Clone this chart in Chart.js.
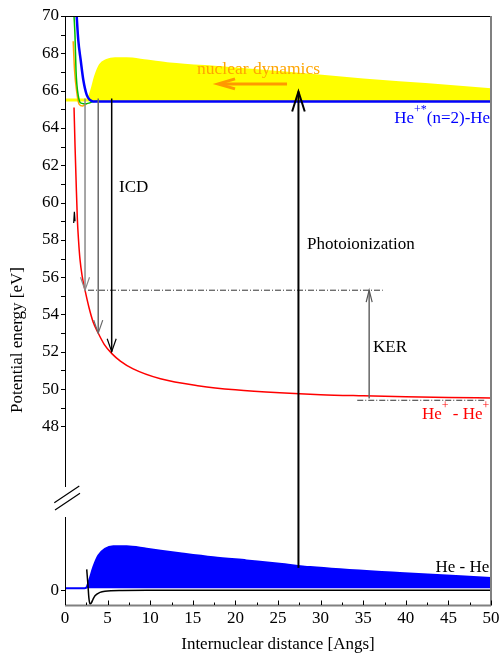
<!DOCTYPE html>
<html>
<head>
<meta charset="utf-8">
<script src="https://cdn.jsdelivr.net/npm/chart.js@4.4.0/dist/chart.umd.min.js"></script>
<style>
  html, body { margin: 0; padding: 0; background: #fff; }
  #wrap { width: 500px; height: 654px; }
</style>
</head>
<body>
<div id="wrap"><canvas id="potentialChart" width="500" height="654"></canvas></div>
<script>
// tick labels
const xTicks = [0, 5, 10, 15, 20, 25, 30, 35, 40, 45, 50];
const yTicksUpper = [48, 50, 52, 54, 56, 58, 60, 62, 64, 66, 68, 70];
const yTicksLower = [0];

// He+ - He+ coulomb curve (red), eV
const ionR = [1.06, 1.18, 1.3, 1.45, 1.6, 1.76, 2.0, 2.35, 2.8, 3.3, 3.9, 4.6, 5.5, 6.5, 8.0, 11.2, 15.8, 20, 25.2, 30, 35, 40, 45, 50];
const ionV = [65.1, 63.0, 61.2, 59.1, 57.9, 56.95, 56.1, 55.3, 54.4, 53.6, 53.0, 52.4, 51.9, 51.5, 51.08, 50.55, 50.17, 49.96, 49.8, 49.7, 49.64, 49.59, 49.55, 49.52];

// He+*(n=2)-He curves
const blueR = [1.33, 1.37, 1.56, 1.84, 2.15, 2.55, 2.93, 3.3, 50];
const blueV = [70.3, 70, 68.7, 67.64, 66.57, 65.77, 65.5, 65.42, 65.42];
const greenR = [1.02, 1.06, 1.17, 1.29, 1.4, 1.55, 1.8, 2.2, 2.8, 3.3, 3.9];
const greenV = [70.4, 70, 69.0, 67.1, 66.3, 65.75, 65.35, 65.3, 65.33, 65.41, 65.43];
const orangeR = [0.96, 1.12, 1.4, 1.65, 2.07, 2.35, 2.6];
const orangeV = [68.65, 67.1, 65.85, 65.28, 65.18, 65.25, 65.3];

// wave packet on the excited state (yellow)
const packetUpR = [0, 2.6, 2.7, 3.1, 3.52, 4.1, 4.89, 5.87, 7.24, 9.6, 12.3, 19, 26.8, 35, 42.3, 50];
const packetUpV = [65.52, 65.52, 65.55, 66.04, 66.75, 67.38, 67.64, 67.73, 67.73, 67.61, 67.46, 67.23, 66.93, 66.6, 66.35, 66.07];

// ground state He-He (lower panel, arb. units)
const groundR = [2.55, 2.7, 2.8, 2.93, 3.1, 3.3, 3.52, 4.11, 4.69, 6.7, 10, 50];
const groundV = [1.4, 0.3, -0.5, -0.93, -0.85, -0.6, -0.38, -0.15, -0.07, -0.02, -0.01, 0];
const packetLowR = [0, 2.3, 2.46, 2.8, 3.32, 3.91, 4.69, 5.67, 7.24, 9.59, 13.5, 17.4, 21.3, 25.2, 28.8, 39.3, 50];
const packetLowV = [0.13, 0.13, 0.15, 0.6, 1.55, 2.33, 2.78, 2.95, 2.95, 2.78, 2.49, 2.22, 2.0, 1.78, 1.55, 1.15, 0.82];

// small black piece near R=1
const hookR = [1.02, 1.1, 1.18];
const hookV = [58.9, 59.5, 59.0];

// arrows and levels
const icdR = [2.35, 3.9, 5.48];
const icdTop = 65.58;
const icdTip = [55.3, 53.0, 52.0];
const icdColors = ['#8a8a8a', '#6a6a6a', '#000000'];
const kerR = 35.7;
const kerFrom = 49.5;
const kerTo = 55.3;
const level1 = { from: 2.7, to: 37.3, v: 55.3 };
const level2 = { from: 34.3, to: 49.3, v: 49.4 };
const photoR = 27.4;
const photoFromLow = 1.5;
const photoTo = 65.95;
const dynFrom = 26.06;
const dynTo = 17.96;
const dynV = 66.36;

const pts = (xs, ys) => xs.map((x, i) => ({ x: x, y: ys[i] }));
const seg = (x1, y1, x2, y2) => [{ x: x1, y: y1 }, { x: x2, y: y2 }];

const serif = "'Liberation Serif', 'Times New Roman', serif";
Chart.defaults.font.family = serif;
Chart.defaults.font.size = 17;
Chart.defaults.color = '#000';

const datasets = [
    { data: pts(packetUpR, packetUpV), borderColor: '#ffff00', backgroundColor: '#ffff00', borderWidth: 2, fill: { value: 65.42 }, order: 20, cubicInterpolationMode: 'monotone' },
    { data: pts(orangeR, orangeV), borderColor: '#ffa500', borderWidth: 1.5, order: 12, cubicInterpolationMode: 'monotone' },
    { data: pts(greenR, greenV), borderColor: '#00c000', borderWidth: 1.5, order: 11, cubicInterpolationMode: 'monotone' },
    { data: pts(blueR, blueV), borderColor: '#0000ff', borderWidth: 2.5, order: 10, cubicInterpolationMode: 'monotone' },
    { data: pts(ionR, ionV), borderColor: '#ff0000', borderWidth: 1.5, order: 9, cubicInterpolationMode: 'monotone' },
    { data: pts(hookR, hookV), borderColor: '#000', borderWidth: 1.2, order: 8 },
    { data: pts(packetLowR, packetLowV), yAxisID: 'yLow', borderColor: '#0000ff', backgroundColor: '#0000ff', borderWidth: 2, fill: { value: 0.13 }, order: 20, cubicInterpolationMode: 'monotone' },
    { data: pts(groundR, groundV), yAxisID: 'yLow', borderColor: '#000', borderWidth: 1.5, order: 9, cubicInterpolationMode: 'monotone' },
    { data: seg(level1.from, level1.v, level1.to, level1.v), borderColor: '#333', borderWidth: 1, borderDash: [6, 2, 1, 2], order: 5 },
    { data: seg(level2.from, level2.v, level2.to, level2.v), borderColor: '#333', borderWidth: 1, borderDash: [6, 2, 1, 2], order: 5 },
    { data: seg(kerR, kerFrom, kerR, kerTo), borderColor: '#666', borderWidth: 1.5, order: 4 },
    { data: seg(photoR, 44, photoR, photoTo), borderColor: '#000', borderWidth: 2, order: 3 },
    { data: seg(photoR, photoFromLow, photoR, 6), yAxisID: 'yLow', borderColor: '#000', borderWidth: 2, order: 3 },
    { data: seg(dynFrom, dynV, dynTo + 0.3, dynV), borderColor: '#ff9900', borderWidth: 3, order: 2 }
];
icdR.forEach((r, i) => {
    datasets.push({ data: seg(r, icdTop, r, icdTip[i]), borderColor: icdColors[i], borderWidth: 1.5, order: 4 });
});

function drawRich(ctx, parts, px, py, align, color) {
    const main = '17px ' + serif, sup = '12px ' + serif;
    let width = 0;
    parts.forEach(p => { ctx.font = p.sup ? sup : main; width += ctx.measureText(p.t).width; });
    let cx = align === 'right' ? px - width : (align === 'center' ? px - width / 2 : px);
    ctx.fillStyle = color;
    ctx.textAlign = 'left';
    ctx.textBaseline = 'alphabetic';
    parts.forEach(p => {
        ctx.font = p.sup ? sup : main;
        ctx.fillText(p.t, cx, p.sup ? py - 10 : py);
        cx += ctx.measureText(p.t).width;
    });
}

function chevron(ctx, px, py, dx1, dy1, dx2, dy2, color, lw) {
    ctx.strokeStyle = color;
    ctx.lineWidth = lw;
    ctx.beginPath();
    ctx.moveTo(px + dx1, py + dy1);
    ctx.lineTo(px, py);
    ctx.lineTo(px + dx2, py + dy2);
    ctx.stroke();
}

const decorPlugin = {
    id: 'decor',
    afterDatasetsDraw(chart) {
        const ctx = chart.ctx;
        const a = chart.chartArea;
        const sx = chart.scales.x, yU = chart.scales.y, yL = chart.scales.yLow;
        ctx.save();

        // frame
        ctx.lineCap = 'butt';
        ctx.strokeStyle = '#000';
        ctx.lineWidth = 1;
        ctx.beginPath();
        ctx.moveTo(a.left, a.top + 0.5); ctx.lineTo(a.right, a.top + 0.5);
        ctx.moveTo(a.left + 0.5, a.top); ctx.lineTo(a.left + 0.5, yU.bottom - 14);
        ctx.moveTo(a.left + 0.5, yL.top + 16); ctx.lineTo(a.left + 0.5, a.bottom);
        ctx.stroke();
        ctx.strokeStyle = '#808080';
        ctx.lineWidth = 2;
        ctx.beginPath();
        ctx.moveTo(a.right, a.top); ctx.lineTo(a.right, a.bottom + 1);
        ctx.moveTo(a.left, a.bottom + 0.5); ctx.lineTo(a.right, a.bottom + 0.5);
        ctx.stroke();

        // axis break marks
        const b = yU.bottom;
        ctx.strokeStyle = '#000';
        ctx.lineWidth = 1.2;
        ctx.beginPath();
        ctx.moveTo(a.left - 10.7, b + 1.7); ctx.lineTo(a.left + 14.3, b - 15);
        ctx.moveTo(a.left - 10, b + 9); ctx.lineTo(a.left + 15, b - 7.7);
        ctx.stroke();

        // tick marks
        ctx.strokeStyle = '#000';
        ctx.lineWidth = 1;
        ctx.beginPath();
        for (let v = 48; v <= 70; v++) {
            const py = Math.round(yU.getPixelForValue(v)) + 0.5;
            ctx.moveTo(a.left - 4, py); ctx.lineTo(a.left, py);
        }
        yTicksLower.forEach(v => {
            const py = Math.round(yL.getPixelForValue(v)) + 0.5;
            ctx.moveTo(a.left - 4, py); ctx.lineTo(a.left, py);
        });
        for (let v = 0; v <= 50; v += 2.5) {
            const px = Math.round(sx.getPixelForValue(v)) + 0.5;
            const len = v % 5 === 0 ? 4.5 : 2.5;
            ctx.moveTo(px, a.bottom); ctx.lineTo(px, a.bottom - len);
        }
        ctx.stroke();

        // arrow heads
        icdR.forEach((r, i) => {
            chevron(ctx, sx.getPixelForValue(r), yU.getPixelForValue(icdTip[i]), -4.5, -13, 4.5, -13, icdColors[i], 1.2);
        });
        chevron(ctx, sx.getPixelForValue(kerR), yU.getPixelForValue(kerTo), -3, 12, 3, 12, '#555', 1.2);
        chevron(ctx, sx.getPixelForValue(photoR), yU.getPixelForValue(photoTo), -6.3, 20, 6.3, 20, '#000', 2);
        chevron(ctx, sx.getPixelForValue(dynTo), yU.getPixelForValue(dynV), 17, -5, 17, 5, '#ff9900', 3);

        // labels
        const P = (r, v, s) => [sx.getPixelForValue(r), (s || yU).getPixelForValue(v)];
        let p;
        ctx.font = '17px ' + serif;
        ctx.textBaseline = 'middle';
        ctx.textAlign = 'left';
        ctx.fillStyle = '#000';
        p = P(6.34, 60.79); ctx.fillText('ICD', p[0], p[1]);
        p = P(28.4, 57.73); ctx.fillText('Photoionization', p[0], p[1]);
        p = P(36.15, 52.22); ctx.fillText('KER', p[0], p[1]);
        ctx.textAlign = 'right';
        p = P(49.8, 1.55, yL); ctx.fillText('He - He', p[0], p[1]);
        ctx.textAlign = 'left';
        ctx.fillStyle = '#ffa500';
        ctx.font = '17.5px ' + serif;
        p = P(15.5, 67.16); ctx.fillText('nuclear dynamics', p[0], p[1]);

        p = P(49.9, 64.27);
        drawRich(ctx, [{ t: 'He' }, { t: '+*', sup: true }, { t: '(n=2)-He' }], p[0], p[1], 'right', '#0000ff');
        p = P(49.8, 48.41);
        drawRich(ctx, [{ t: 'He' }, { t: '+', sup: true }, { t: ' - He' }, { t: '+', sup: true }], p[0], p[1], 'right', '#ff0000');

        // axis titles
        ctx.fillStyle = '#000';
        ctx.font = '17px ' + serif;
        ctx.textAlign = 'center';
        ctx.textBaseline = 'middle';
        ctx.fillText('Internuclear distance [Angs]', (a.left + a.right) / 2, 645);
        ctx.translate(18, 340);
        ctx.rotate(-Math.PI / 2);
        ctx.fillText('Potential energy [eV]', 0, 0);
        ctx.restore();
    }
};

new Chart(document.getElementById('potentialChart').getContext('2d'), {
    type: 'scatter',
    data: { datasets: datasets.map(d => Object.assign({ showLine: true, pointRadius: 0, fill: false }, d)) },
    options: {
        responsive: false,
        animation: false,
        events: [],
        layout: { padding: { left: 0, right: 9, top: 16, bottom: 0 } },
        plugins: { legend: { display: false }, tooltip: { enabled: false } },
        scales: {
            x: {
                type: 'linear', min: 0, max: 50, position: 'bottom',
                grid: { display: false, drawTicks: false }, border: { display: false },
                ticks: { padding: 3, autoSkip: false, maxRotation: 0 },
                afterBuildTicks: s => { s.ticks = xTicks.map(v => ({ value: v })); },
                afterFit: s => { s.height = 49; s.paddingLeft = 0; s.paddingRight = 0; }
            },
            y: {
                type: 'linear', min: 44, max: 70, position: 'left', stack: 'energy', stackWeight: 485, weight: 1,
                grid: { display: false, drawTicks: false }, border: { display: false },
                ticks: { padding: 6, autoSkip: false },
                afterBuildTicks: s => { s.ticks = yTicksUpper.map(v => ({ value: v })); },
                afterFit: s => { s.width = 65; s.paddingTop = 0; s.paddingBottom = 0; }
            },
            yLow: {
                type: 'linear', min: -1, max: 6, position: 'left', stack: 'energy', stackWeight: 104, weight: 0,
                grid: { display: false, drawTicks: false }, border: { display: false },
                ticks: { padding: 6, autoSkip: false },
                afterBuildTicks: s => { s.ticks = yTicksLower.map(v => ({ value: v })); },
                afterFit: s => { s.width = 65; s.paddingTop = 0; s.paddingBottom = 0; }
            }
        }
    },
    plugins: [decorPlugin]
});
</script>
</body>
</html>
